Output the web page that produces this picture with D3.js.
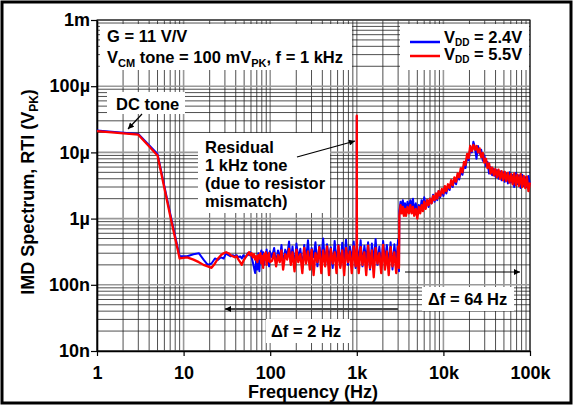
<!DOCTYPE html>
<meta charset="utf-8">
<style>
body { margin: 0; background: #fff; }
svg text { font-family: "Liberation Sans", Arial, sans-serif; font-weight: bold; fill: #000; }
</style>
<svg width="574" height="406"></svg>
<script src="https://d3js.org/d3.v7.min.js"></script>
<script>

// axis ticks
var xTickVals = [1, 10, 100, 1e3, 1e4, 1e5],
    xTickLabels = ["1", "10", "100", "1k", "10k", "100k"],
    yTickVals = [0.01, 0.1, 1, 10, 100, 1000],          // in uV
    yTickLabels = ["10n", "100n", "1\u00b5", "10\u00b5", "100\u00b5", "1m"];

// spectrum, values in uV
var freqLow = [1,3,5,7,9,11,13,15,17,19,21,23,25,27,29,31,33,35,37,39,41,43,45,47,49,
  51,53,55,57,59,61,63,65,67,69,71,73,75,77,79,81,83,85,87,89,91,93,95,97,99];
var blueLow = [21.5,19,9.5,1.2,0.27,0.27,0.29,0.30,0.24,0.20,0.21,0.25,0.24,0.26,0.25,
  0.30,0.28,0.27,0.28,0.27,0.28,0.26,0.27,0.25,0.28,0.26,0.27,0.30,0.28,0.31,0.26,0.22,
  0.18,0.15,0.25,0.17,0.30,0.16,0.28,0.33,0.24,0.31,0.20,0.29,0.25,0.34,0.22,0.28,0.19,0.32];
var redLow = [21,18.5,9.0,1.1,0.25,0.26,0.24,0.22,0.20,0.19,0.18,0.21,0.25,0.28,0.30,
  0.31,0.30,0.28,0.27,0.26,0.27,0.24,0.22,0.20,0.23,0.25,0.27,0.29,0.31,0.28,0.30,0.26,
  0.29,0.24,0.27,0.22,0.28,0.25,0.30,0.21,0.27,0.18,0.29,0.24,0.31,0.20,0.28,0.23,0.30,0.22];

var freqMid = [105,111,117,123,129,135,141,149,157,165,173,181,191,201,211,223,235,247,259,273,
  287,301,317,333,351,369,389,409,431,453,477,501,527,555,583,613,645,679,715,751,
  791,833,875,921,969,997,1000,1003,1053,1107,1163,1223,1285,1351,1421,1493,1569,1649,1733,1821,
  1915,2013,2115,2223,2337,2457,2583,2715,2853,2999,3071];
var blueMid = [0.26,0.36,0.21,0.33,0.24,0.40,0.20,0.34,0.27,0.45,
  0.22,0.38,0.19,0.42,0.25,0.35,0.18,0.40,0.24,0.47,
  0.21,0.36,0.26,0.44,0.19,0.39,0.23,0.50,0.20,0.41,
  0.25,0.37,0.18,0.46,0.22,0.40,0.19,0.43,0.24,0.48,
  0.20,0.38,0.23,0.45,0.18,0.40,35,0.42,0.21,0.47,
  0.19,0.39,0.24,0.44,0.17,0.42,0.22,0.49,0.20,0.38,
  0.18,0.46,0.23,0.40,0.19,0.44,0.17,0.41,0.22,0.48,0.16];
var redMid = [0.23,0.30,0.19,0.28,0.22,0.33,0.17,0.29,0.24,0.35,
  0.20,0.31,0.16,0.34,0.22,0.29,0.15,0.36,0.21,0.32,
  0.17,0.34,0.14,0.30,0.22,0.37,0.15,0.33,0.19,0.38,
  0.14,0.35,0.21,0.31,0.15,0.39,0.18,0.33,0.14,0.36,
  0.22,0.32,0.15,0.38,0.19,0.30,36,0.34,0.15,0.37,
  0.20,0.31,0.14,0.39,0.18,0.33,0.13,0.36,0.21,0.30,
  0.15,0.40,0.17,0.32,0.14,0.37,0.19,0.31,0.15,0.38,0.18];

var freqHigh = [3100,3200,3300,3400,3500,3600,3700,3850,4000,4150,4300,4450,4600,4800,5000,
  5200,5400,5600,5800,6000,6250,6500,6750,7000,7300,7600,7900,8200,8500,8800,9200,9600,
  10000,10400,10800,11300,11800,12300,12800,13400,14000,14600,15200,15900,16600,17300,
  18000,18800,19600,20400,21300,22200,23100,24100,25100,26200,27300,28500,29700,31000,
  32300,33700,35100,36600,38200,39800,41500,43300,45100,47000,49000,51100,53300,55600,
  58000,60500,63100,65800,68600,71500,74600,77800,81100,84600,88200,92000,95900,100000];
var blueHigh = [1.3,1.8,1.5,1.9,1.4,1.7,1.3,1.8,1.4,1.9,1.5,2.0,1.3,1.7,1.2,
  1.6,1.3,1.9,1.5,2.1,1.6,1.9,1.5,2.0,1.7,2.3,1.8,2.2,1.9,2.6,2.1,2.7,
  2.2,3.0,2.4,3.1,2.7,3.5,3.0,3.9,3.3,4.4,3.9,5.2,4.6,6.5,
  5.8,8.5,7.6,11.5,10.0,14.5,12.0,8.0,12.5,9.5,11.0,7.5,9.0,6.2,
  7.2,4.8,6.0,4.5,5.6,4.3,5.4,4.0,5.2,3.8,5.0,3.6,4.8,3.4,
  5.0,3.5,4.6,3.0,4.9,3.3,4.5,2.9,4.6,3.1,4.2,3.0,4.4,3.2];
var redHigh = [1.1,1.6,1.2,1.5,1.1,1.4,1.1,1.5,1.2,1.6,1.2,1.5,1.1,1.4,1.0,
  1.5,1.2,1.6,1.3,1.8,1.4,1.9,1.6,2.0,1.7,2.2,1.9,2.4,2.0,2.6,2.2,2.8,
  2.4,3.1,2.6,3.3,2.9,3.8,3.2,4.2,3.6,4.8,4.2,5.8,5.0,7.2,
  6.5,9.5,8.2,12.5,10.5,13.0,11.0,12.5,10.0,11.5,8.5,9.8,7.0,8.0,
  5.8,6.8,4.8,5.9,4.5,5.6,4.2,5.5,4.0,5.2,3.8,5.1,3.7,4.9,
  3.5,4.7,3.3,4.8,3.2,4.6,3.1,4.7,3.0,4.4,2.9,4.3,2.6,3.5];

var svg = d3.select("svg"),
    plotL = 97, plotR = 530, plotT = 20, plotB = 351;

var x = d3.scaleLog().domain([1, 1e5]).range([plotL, plotR]),
    y = d3.scaleLog().domain([0.01, 1000]).range([plotB, plotT]);

function isDecade(d) {
  var l = Math.log10(d);
  return Math.abs(l - Math.round(l)) < 1e-9;
}

// outer frame
svg.append("rect").attr("x", 2).attr("y", 2).attr("width", 569).attr("height", 401)
    .attr("fill", "none").attr("stroke", "#000").attr("stroke-width", 3);

// grid
var grid = svg.append("g");
grid.selectAll(".vx").data(x.ticks()).join("line")
    .attr("x1", d => x(d)).attr("x2", d => x(d)).attr("y1", plotT).attr("y2", plotB)
    .attr("stroke", d => isDecade(d) ? "#999" : "#222")
    .attr("stroke-width", d => isDecade(d) ? 1.6 : 0.8);
grid.selectAll(".hy").data(y.ticks()).join("line")
    .attr("y1", d => y(d)).attr("y2", d => y(d)).attr("x1", plotL).attr("x2", plotR)
    .attr("stroke", d => isDecade(d) ? "#999" : "#222")
    .attr("stroke-width", d => isDecade(d) ? 1.6 : 0.8);

// white label boxes that hide the grid
function box(x0, y0, w, h) {
  svg.append("rect").attr("x", x0).attr("y", y0).attr("width", w).attr("height", h).attr("fill", "#fff");
}
box(100, 24, 252, 46);
box(400, 24, 129, 46);
box(107, 92, 78, 22);
box(198, 133, 132, 80);
box(422, 287, 92, 24);
box(266, 319, 84, 24);

// axes
var axL = svg.append("g").attr("transform", "translate(" + plotL + ",0)")
    .call(d3.axisLeft(y).tickValues(yTickVals).tickFormat((d, i) => yTickLabels[i])
      .tickSizeInner(6).tickSizeOuter(0).tickPadding(1));
var axB = svg.append("g").attr("transform", "translate(0," + plotB + ")")
    .call(d3.axisBottom(x).tickValues(xTickVals).tickFormat((d, i) => xTickLabels[i])
      .tickSizeInner(5).tickSizeOuter(0).tickPadding(10));
[axL, axB].forEach(function(g) {
  g.attr("font-family", null).attr("font-size", 18);
  g.select(".domain").attr("stroke-width", 1.6);
  g.selectAll(".tick line").attr("stroke-width", 1.2);
});
// frame of the plot
svg.append("rect").attr("x", plotL).attr("y", plotT).attr("width", plotR - plotL).attr("height", plotB - plotT)
    .attr("fill", "none").attr("stroke", "#000").attr("stroke-width", 1);

// traces
function series(f, v) {
  return f.map((d, i) => [d, v[i]]);
}
var blue = series(freqLow, blueLow).concat(series(freqMid, blueMid), series(freqHigh, blueHigh)),
    red = series(freqLow, redLow).concat(series(freqMid, redMid), series(freqHigh, redHigh));

var line = d3.line().x(d => x(d[0])).y(d => y(d[1]));
svg.append("path").datum(blue).attr("d", line).attr("fill", "none")
    .attr("stroke", "#0000ff").attr("stroke-width", 2).attr("stroke-linejoin", "round");
svg.append("path").datum(red).attr("d", line).attr("fill", "none")
    .attr("stroke", "#ff0000").attr("stroke-width", 2.3).attr("stroke-linejoin", "round");

// text helper: parts = [[text, isSub], ...]
function rich(t, parts, sub, drop) {
  var prevSub = false, dd = drop || 4;
  parts.forEach(function(p) {
    var ts = t.append("tspan").text(p[0]);
    if (p[1]) { ts.attr("dy", dd).attr("font-size", sub || 11); prevSub = true; }
    else if (prevSub) { ts.attr("dy", -dd); prevSub = false; }
  });
  return t;
}

var fs = 16.5;
svg.append("text").attr("x", 107).attr("y", 42).attr("font-size", fs).text("G = 11 V/V");
rich(svg.append("text").attr("x", 107).attr("y", 63).attr("font-size", fs),
  [["V"], ["CM", 1], [" tone = 100 mV"], ["PK", 1], [", f = 1 kHz"]]);

// legend
svg.append("line").attr("x1", 410).attr("x2", 440).attr("y1", 42).attr("y2", 42)
    .attr("stroke", "#0000ff").attr("stroke-width", 2.5);
svg.append("line").attr("x1", 410).attr("x2", 440).attr("y1", 56).attr("y2", 56)
    .attr("stroke", "#ff0000").attr("stroke-width", 2.5);
rich(svg.append("text").attr("x", 444).attr("y", 43).attr("font-size", fs), [["V"], ["DD", 1], [" = 2.4V"]], 10, 3);
rich(svg.append("text").attr("x", 444).attr("y", 60).attr("font-size", fs), [["V"], ["DD", 1], [" = 5.5V"]], 10, 3);

// annotations
svg.append("text").attr("x", 116).attr("y", 110).attr("font-size", fs).text("DC tone");
["Residual", "1 kHz tone", "(due to resistor", "mismatch)"].forEach(function(s, i) {
  svg.append("text").attr("x", 205).attr("y", 153 + i * 18).attr("font-size", fs).text(s);
});
svg.append("text").attr("x", 428).attr("y", 305).attr("font-size", fs).text("\u0394f = 64 Hz");
svg.append("text").attr("x", 271).attr("y", 337).attr("font-size", fs).text("\u0394f = 2 Hz");

var defs = svg.append("defs");
defs.append("marker").attr("id", "ah").attr("viewBox", "0 0 10 10").attr("refX", 10).attr("refY", 5)
    .attr("markerWidth", 8).attr("markerHeight", 6).attr("orient", "auto-start-reverse")
    .attr("markerUnits", "userSpaceOnUse")
    .append("path").attr("d", "M0,0L10,5L0,10z").attr("fill", "#000");

function arrow(x1, y1, x2, y2, col, w) {
  svg.append("line").attr("x1", x1).attr("y1", y1).attr("x2", x2).attr("y2", y2)
      .attr("stroke", col).attr("stroke-width", w).attr("marker-end", "url(#ah)");
}
arrow(142, 114, 128, 129, "#000", 1.2);
arrow(297, 157, 355, 141, "#000", 1.2);
arrow(405, 272, 520, 272, "#000", 1.2);
arrow(398, 309, 225, 309, "#444", 2);

// axis titles
svg.append("text").attr("x", 313).attr("y", 398).attr("text-anchor", "middle")
    .attr("font-size", 18).text("Frequency (Hz)");
rich(svg.append("text").attr("transform", "translate(34,192) rotate(-90)").attr("text-anchor", "middle")
    .attr("font-size", 18), [["IMD Spectrum, RTI (V"], ["PK", 1], [")"]], 12);

</script>
